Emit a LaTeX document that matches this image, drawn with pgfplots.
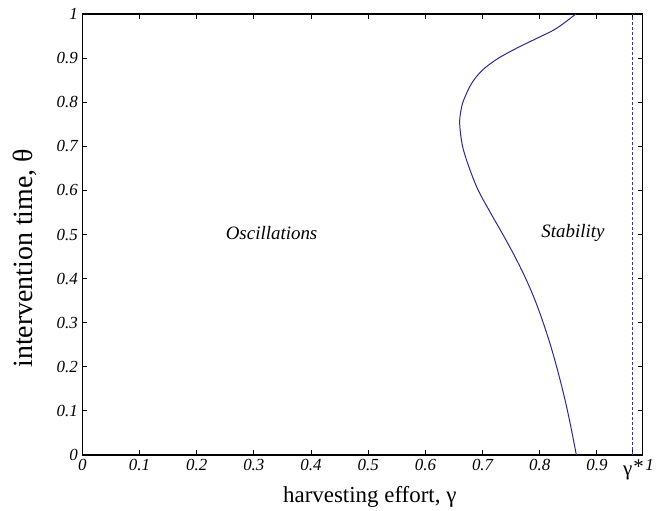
\documentclass[border=0pt]{standalone}
\usepackage{fontspec}
\setmainfont{Liberation Serif}
\usepackage{pgfplots}
\pgfplotsset{compat=1.18}

\definecolor{curveblue}{RGB}{45,40,140}
\definecolor{dashblue}{RGB}{60,50,150}

\begin{document}
\begin{tikzpicture}
\begin{axis}[
  at={(0,0)}, anchor=south west,
  scale only axis,
  width=560.4bp, height=441bp,
  xmin=0, xmax=0.98, ymin=0, ymax=1,
  axis line style={line width=1.3bp},
  tick style={line width=1bp, black},
  major tick length=5bp,
  tick align=inside,
  xtick pos=both, ytick pos=both,
  xtick={0,0.1,0.2,0.3,0.4,0.5,0.6,0.7,0.8,0.9,0.963,0.98},
  xticklabels={0,0.1,0.2,0.3,0.4,0.5,0.6,0.7,0.8,0.9,{\raisebox{3bp}{\upshape\fontsize{21}{21}\selectfont γ\raisebox{2bp}{\itshape*}}},{\hspace*{14bp}\raisebox{5bp}{1}}},
  ytick={0,0.1,0.2,0.3,0.4,0.5,0.6,0.7,0.8,0.9,1},
  yticklabels={0,0.1,0.2,0.3,0.4,0.5,0.6,0.7,0.8,0.9,1},
  ticklabel style={font=\fontsize{17}{17}\selectfont\itshape},
  xticklabel style={yshift=-1bp},
  yticklabel style={xshift=-1bp},
  xlabel={harvesting effort, γ},
  ylabel={intervention time, θ},
  xlabel style={font=\fontsize{23}{23}\selectfont, at={(axis description cs:0.513,0)}, anchor=base, yshift=-47bp},
  ylabel style={font=\fontsize{28}{28}\selectfont, at={(axis description cs:0,0.446)}, anchor=base, yshift=50bp},
  clip=false,
]
% stability boundary
\addplot[curveblue, line width=1bp, smooth, tension=0.55] coordinates {
  (0.864,0.00) (0.8565,0.05) (0.8485,0.10) (0.8395,0.15) (0.8295,0.20)
  (0.8185,0.25) (0.806,0.30) (0.792,0.35) (0.7755,0.40) (0.7565,0.45)
  (0.7355,0.50) (0.7135,0.55) (0.6925,0.60) (0.677,0.65) (0.665,0.70)
  (0.660,0.75) (0.662,0.78) (0.667,0.805) (0.681,0.843) (0.700,0.873)
  (0.728,0.900) (0.765,0.926) (0.800,0.948) (0.830,0.968) (0.863,1.00)
};
% critical harvesting effort
\addplot[dashblue, line width=1bp, dash pattern=on 3bp off 2bp] coordinates {(0.963,0) (0.963,1)};
\node[font=\fontsize{19}{19}\selectfont\itshape] at (axis cs:0.331,0.503) {Oscillations};
\node[font=\fontsize{19}{19}\selectfont\itshape] at (axis cs:0.858,0.503) {Stability};
\end{axis}
\pgfresetboundingbox
\path[use as bounding box] (-82.3bp,-56bp) rectangle (578.7bp,455bp);
\end{tikzpicture}
\end{document}
